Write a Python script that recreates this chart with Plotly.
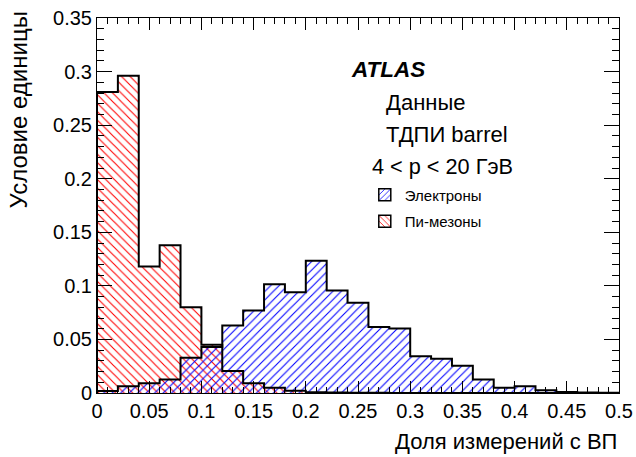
import plotly.graph_objects as go

# Histogram binning of the high-threshold fraction
bin_width = 0.02
n_bins = 25
edges = [i * bin_width for i in range(n_bins + 1)]
centers = [(edges[i] + edges[i + 1]) / 2 for i in range(n_bins)]

# Normalised distributions (unit area)
electrons = [0.0019, 0.0064, 0.0092, 0.0127, 0.033, 0.043, 0.063, 0.077,
             0.1016, 0.094, 0.1235, 0.0956, 0.0843, 0.0615, 0.0603, 0.0343,
             0.032, 0.0255, 0.0126, 0.005, 0.0063, 0.0025, 0.0009, 0.0004,
             0.0003]
pions = [0.281, 0.296, 0.118, 0.138, 0.080, 0.045, 0.0205, 0.0092, 0.0049,
         0.0020, 0.0008, 0.0005, 0.0003, 0.0002, 0.0001, 0.0001, 0.0, 0.0,
         0.0, 0.0, 0.0, 0.0, 0.0, 0.0, 0.0]

series = [
    ("Электроны", electrons, "#0000ff", "/"),
    ("Пи-мезоны", pions, "#ff0000", "\\"),
]

FONT = "Liberation Sans, Arial, Helvetica, sans-serif"

fig = go.Figure()


def step_outline(values):
    xs = [edges[0]] + edges[:-1] + [edges[-1], edges[-1]]
    ys = [0.0] + list(values) + [values[-1], 0.0]
    return xs, ys


# hatched fills (pions first, electrons over them)
for name, vals, col, shp in reversed(series):
    fig.add_trace(go.Bar(
        x=centers, y=vals, width=bin_width, showlegend=False,
        marker=dict(color="rgba(0,0,0,0)", line=dict(width=0),
                    pattern=dict(shape=shp, fgcolor=col,
                                 bgcolor="rgba(0,0,0,0)", size=6,
                                 solidity=0.18, fillmode="replace")),
        hoverinfo="skip",
    ))

# black step outlines
for name, vals, col, shp in reversed(series):
    xs, ys = step_outline(vals)
    fig.add_trace(go.Scatter(
        x=xs, y=ys, mode="lines", line=dict(color="black", width=2, shape="hv"),
        showlegend=False, hoverinfo="skip",
    ))

# legend entries, one group each so the gap between rows can be set
for name, vals, col, shp in series:
    fig.add_trace(go.Bar(
        x=[None], y=[None], name=name, legendgroup=name,
        marker=dict(color="rgba(0,0,0,0)", line=dict(width=1.5, color="black"),
                    pattern=dict(shape=shp, fgcolor=col,
                                 bgcolor="rgba(0,0,0,0)", size=5,
                                 solidity=0.2, fillmode="replace")),
    ))

axis_common = dict(
    showgrid=False, zeroline=False, showline=True, linecolor="black",
    linewidth=1, mirror="ticks", ticks="inside", tickcolor="black",
    automargin=False,
    tickfont=dict(family=FONT, size=20, color="black"),
)

fig.update_xaxes(range=[0, 0.5], dtick=0.05, tick0=0, ticklen=12,
                 tickformat="~g",
                 minor=dict(dtick=0.01, ticklen=6, ticks="inside",
                            tickcolor="black"),
                 **axis_common)
fig.update_yaxes(range=[0, 0.35], dtick=0.05, tick0=0, ticklen=15,
                 tickformat="~g",
                 minor=dict(dtick=0.01, ticklen=7, ticks="inside",
                            tickcolor="black"),
                 **axis_common)

annotations = [
    dict(text="<b><i>ATLAS</i></b>", x=0.482, y=0.862, size=22.5),
    dict(text="Данные", x=0.55, y=0.774, size=22),
    dict(text="ТДПИ barrel", x=0.55, y=0.689, size=22),
    dict(text="4 < p < 20 ГэВ", x=0.523, y=0.603, size=21.7),
]
for a in annotations:
    fig.add_annotation(text=a["text"], xref="paper", yref="paper",
                       x=a["x"], y=a["y"], xanchor="left",
                       yanchor="middle", showarrow=False,
                       font=dict(family=FONT, size=a["size"], color="black"))

# axis titles
fig.add_annotation(text="Доля измерений с ВП", xref="paper", yref="paper",
                   x=1.0, y=-0.128, xanchor="right", yanchor="middle",
                   showarrow=False,
                   font=dict(family=FONT, size=22, color="black"))
fig.add_annotation(text="Условие единицы", xref="paper", yref="paper",
                   x=-0.151, y=1.022, xanchor="center", yanchor="top",
                   textangle=-90, showarrow=False,
                   font=dict(family=FONT, size=24, color="black"))

fig.update_layout(
    width=636, height=457,
    margin=dict(l=97, r=17, t=18, b=64),
    paper_bgcolor="white", plot_bgcolor="white",
    barmode="overlay", bargap=0,
    legend=dict(x=0.513, y=0.572, xanchor="left", yanchor="top",
                bgcolor="rgba(0,0,0,0)", traceorder="grouped",
                font=dict(family=FONT, size=15, color="black"),
                tracegroupgap=4, itemwidth=30),
)

fig.write_html("out.html")
